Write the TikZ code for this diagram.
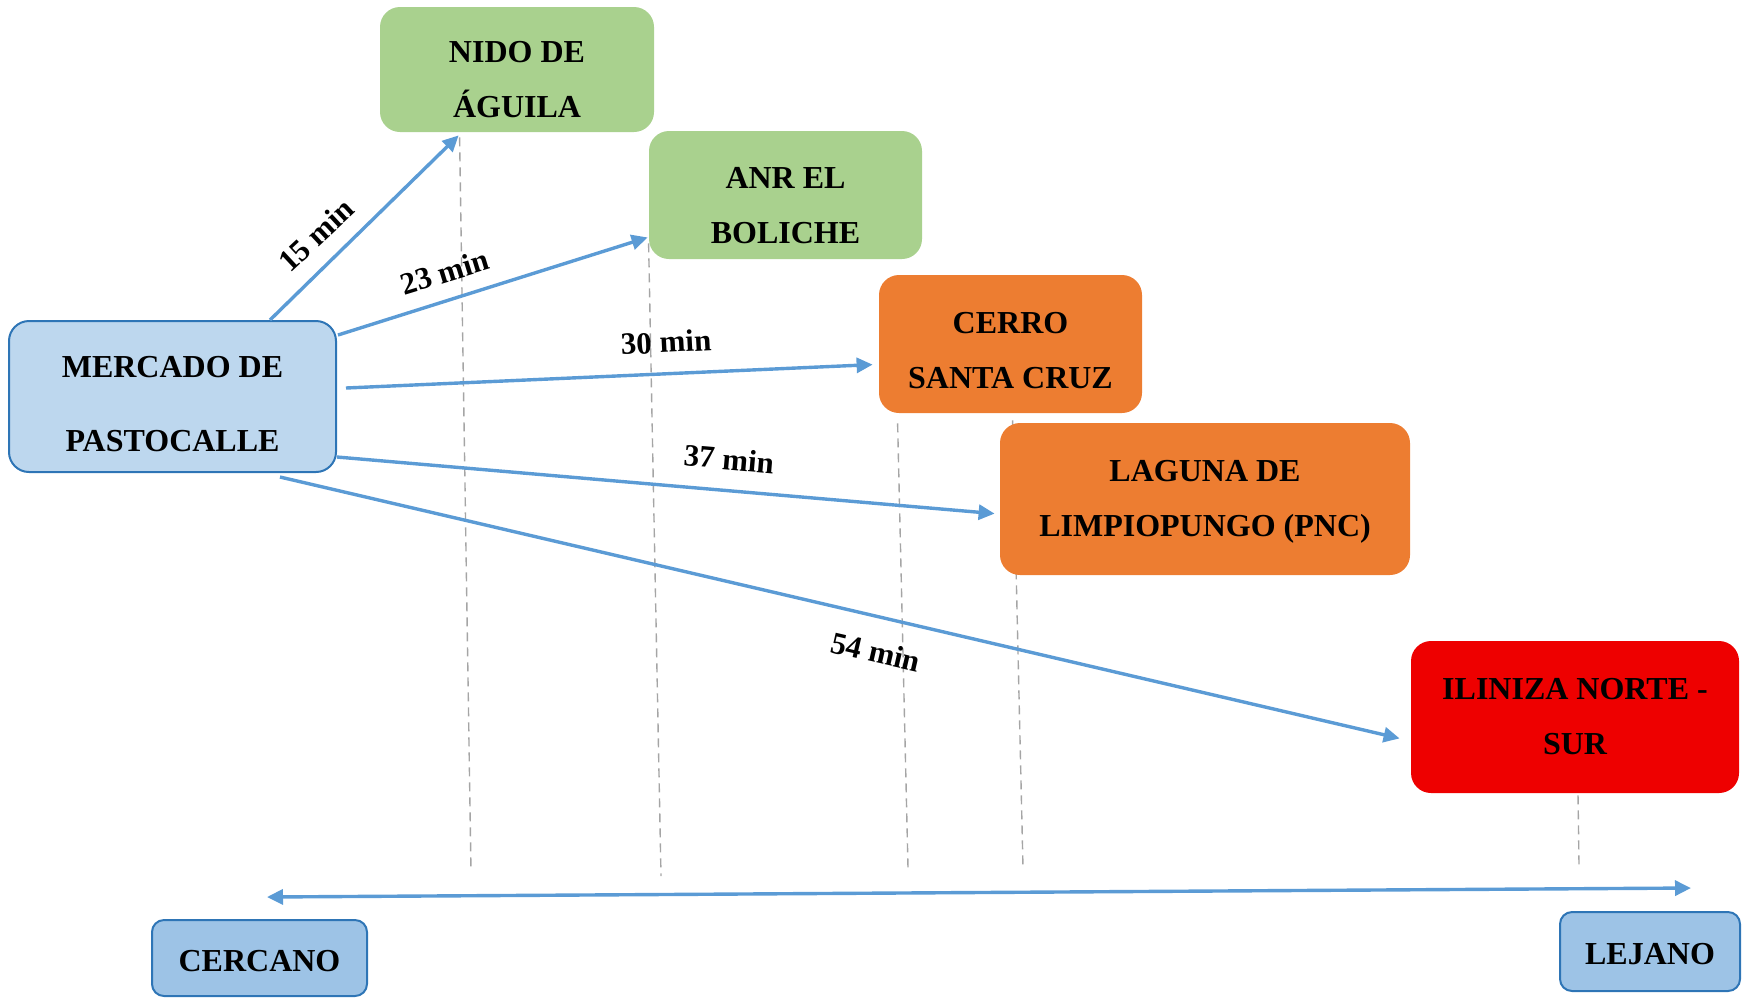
\documentclass[tikz,border=0pt]{standalone}
\usepackage{fontspec}
\setmainfont{Liberation Serif}
\usetikzlibrary{arrows.meta,backgrounds}
\definecolor{lineblue}{HTML}{5B9BD5}
\definecolor{edgeblue}{HTML}{2E75B6}
\definecolor{paleblue}{HTML}{BDD7EE}
\definecolor{midblue}{HTML}{9DC3E6}
\definecolor{boxgreen}{HTML}{A9D18E}
\definecolor{boxorange}{HTML}{ED7D31}
\definecolor{boxred}{HTML}{EE0000}
\definecolor{dashgray}{HTML}{A5A5A5}
\newcommand{\liftstrut}[1]{\rule{0pt}{#1}}
\begin{document}
\begin{tikzpicture}[x=0.5pt,y=-0.5pt,
  box/.style={rounded corners=10pt, inner sep=0pt, align=center,
    font=\bfseries\fontsize{16}{27.5}\selectfont, draw=none},
  bluebox/.style={box, draw=edgeblue, line width=1pt},
  conn/.style={lineblue, line width=1.7pt, -{Triangle[length=8pt,width=7.5pt]}},
  biconn/.style={lineblue, line width=1.7pt, {Triangle[length=8pt,width=7.5pt]}-{Triangle[length=8pt,width=7.5pt]}},
  guide/.style={dashgray, line width=0.7pt, dash pattern=on 4.5pt off 3pt},
  lbl/.style={font=\bfseries\fontsize{15.5}{18}\selectfont, inner sep=0pt}]
\useasboundingbox (0,0) rectangle (1748,998);

% boxes
\node[bluebox, fill=paleblue, minimum width=163.5pt, minimum height=75.5pt,
  font=\bfseries\fontsize{16}{37}\selectfont] (mercado) at (172.5,396.5) {\liftstrut{18.6pt}MERCADO DE\\PASTOCALLE};
\node[box, fill=boxgreen, minimum width=137pt, minimum height=62.5pt] (nido) at (517,69.5) {\liftstrut{20.6pt}NIDO DE\\ÁGUILA};
\node[box, fill=boxgreen, minimum width=136.5pt, minimum height=64pt] (anr) at (785.5,195) {\liftstrut{21.6pt}ANR EL\\BOLICHE};
\node[box, fill=boxorange, minimum width=131.5pt, minimum height=69pt] (cerro) at (1010.5,344) {\liftstrut{17.6pt}CERRO\\SANTA CRUZ};
\node[box, fill=boxorange, minimum width=205pt, minimum height=76pt] (laguna) at (1205,499) {\liftstrut{13.6pt}LAGUNA DE\\LIMPIOPUNGO (PNC)};
\node[box, fill=boxred, minimum width=164pt, minimum height=76pt] (iliniza) at (1575,717) {ILINIZA NORTE -\\SUR};
\node[bluebox, fill=midblue, rounded corners=6pt, minimum width=107.5pt, minimum height=38pt] (cercano) at (259.5,958) {\liftstrut{13.6pt}CERCANO};
\node[bluebox, fill=midblue, rounded corners=6pt, minimum width=90pt, minimum height=39.5pt] (lejano) at (1650,951.5) {\liftstrut{13.6pt}LEJANO};

% guide ends
\coordinate (g1) at (471,872);
\coordinate (g2) at (661,876);
\coordinate (g3) at (908,868);
\coordinate (g4) at (1023,868);
\coordinate (g5) at (1579,865);

\begin{pgfonlayer}{background}
\draw[guide] ([xshift=40pt,yshift=-2.5pt]nido.south west) -- (g1);
\draw[guide] ([yshift=8pt]anr.south west) -- (g2);
\draw[guide] ([xshift=9.5pt,yshift=-5pt]cerro.south west) -- (g3);
\draw[guide] ([xshift=67pt,yshift=-3.5pt]cerro.south west) -- (g4);
\draw[guide] ([xshift=1.5pt,yshift=-1pt]iliniza.south) -- (g5);
\end{pgfonlayer}

% connectors
\draw[conn] ([xshift=131pt]mercado.north west) -- ([xshift=39.5pt,yshift=-1.5pt]nido.south west);
\draw[conn] ([xshift=0.5pt,yshift=-7.5pt]mercado.north east) -- ([xshift=-0.5pt,yshift=11pt]anr.south west);
\draw[conn] ([xshift=4.5pt,yshift=-34pt]mercado.north east) -- ([xshift=-3pt,yshift=-45pt]cerro.north west);
\draw[conn] ([yshift=8pt]mercado.south east) -- ([xshift=-2.5pt,yshift=-45.5pt]laguna.north west);
\draw[conn] ([xshift=-28.5pt,yshift=-2pt]mercado.south east) -- ([xshift=-5.5pt,yshift=27.5pt]iliniza.south west);
\draw[biconn] ([xshift=58pt,yshift=11pt]cercano.north west) -- ([xshift=-25pt,yshift=11.5pt]lejano.north east);

% labels
\node[lbl, rotate=43] (l15) at (316,235) {15 min};
\node[lbl, rotate=17] (l23) at (445,272) {23 min};
\node[lbl, rotate=3] (l30) at (666,342) {30 min};
\node[lbl, rotate=-5] (l37) at (729,459) {37 min};
\node[lbl, rotate=-13] (l54) at (876,652) {54 min};
\end{tikzpicture}
\end{document}
